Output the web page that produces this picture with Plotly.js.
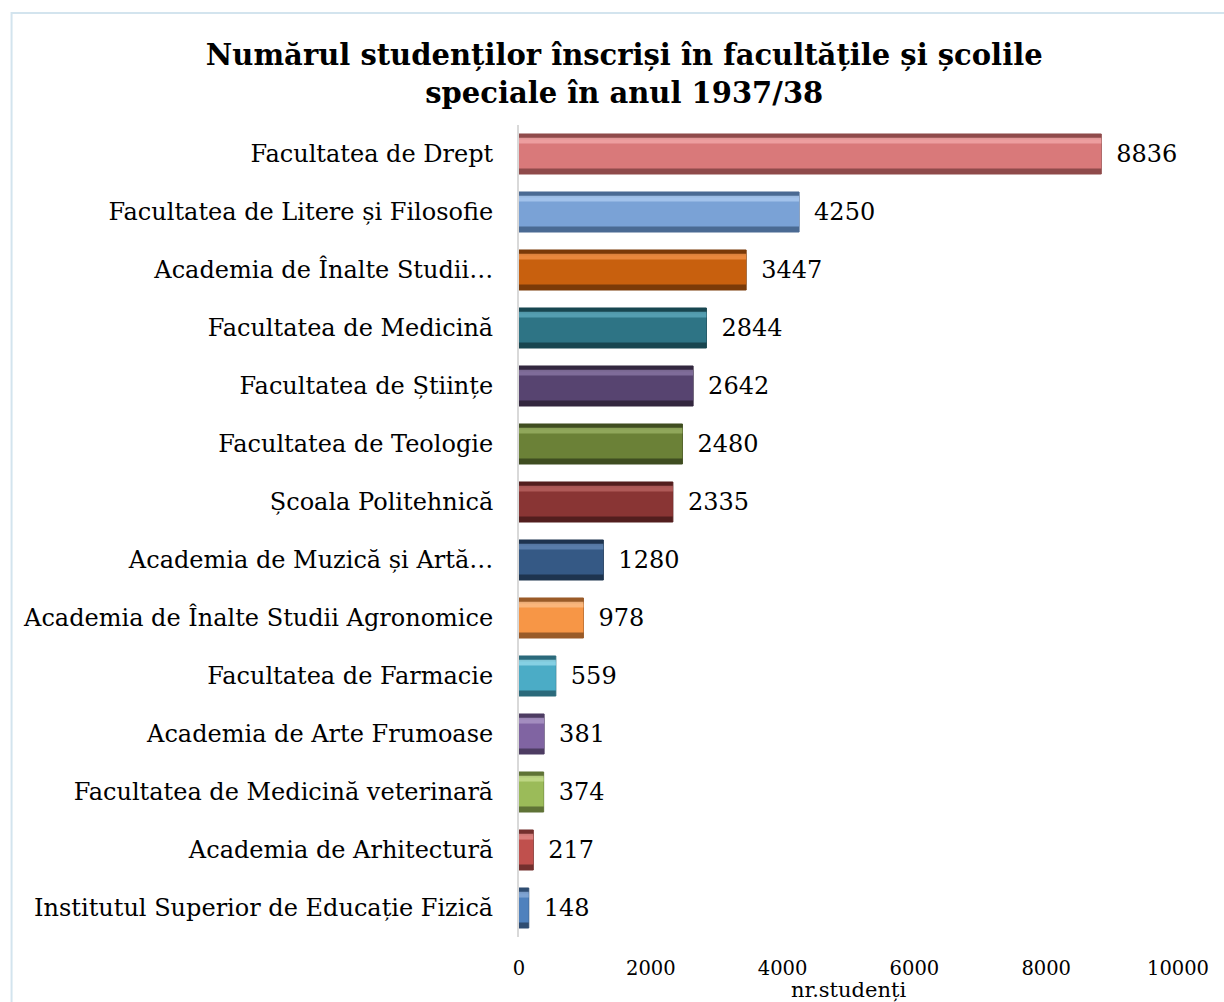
<!DOCTYPE html>
<html>
<head>
<meta charset="utf-8">
<script src="https://cdn.plot.ly/plotly-3.0.1.min.js"></script>
<style>html,body{margin:0;padding:0;background:#fff;}#chart{width:1224px;height:1002px;}</style>
</head>
<body>
<div id="chart"></div>
<script>
var categories = [
  "Facultatea de Drept",
  "Facultatea de Litere și Filosofie",
  "Academia de Înalte Studii…",
  "Facultatea de Medicină",
  "Facultatea de Științe",
  "Facultatea de Teologie",
  "Școala Politehnică",
  "Academia de Muzică și Artă…",
  "Academia de Înalte Studii Agronomice",
  "Facultatea de Farmacie",
  "Academia de Arte Frumoase",
  "Facultatea de Medicină veterinară",
  "Academia de Arhitectură",
  "Institutul Superior de Educație Fizică"
];
var students = [8836, 4250, 3447, 2844, 2642, 2480, 2335, 1280, 978, 559, 381, 374, 217, 148];
var barColors = ["#d9797a","#7aa2d6","#c8600e","#2e7485","#574470","#6b8137","#893534","#355985","#f79646","#4bacc6","#8064a2","#9bbb59","#c0504d","#4f81bd"];
var edgeColors = ["#8f4a4b","#4a6a93","#7a3a08","#184650","#33273f","#3f4d20","#521e1e","#1e344f","#9a5b28","#2b6a7b","#4d3c62","#5f7336","#74302e","#2f4d72"];
var lightColors = ["#f0a5a6","#a9c8ef","#ee8f45","#5aa6b8","#8673a0","#97ae62","#b6605f","#5f84b0","#fbbc85","#8fd6e8","#a994c4","#c3db8b","#de8785","#86a9d6"];
var tickVals = [0, 2000, 4000, 6000, 8000, 10000];

var font = "DejaVu Serif, Liberation Serif, serif";

var traces = [
  {
    type: "bar", orientation: "h", y: categories, x: students,
    width: 0.69,
    marker: {color: edgeColors, line: {color: edgeColors, width: 1}},
    hoverinfo: "skip", showlegend: false
  },
  {
    type: "bar", orientation: "h", y: categories, x: students,
    width: 0.5,
    marker: {color: barColors, line: {width: 0}},
    hoverinfo: "skip", showlegend: false
  },
  {
    type: "bar", orientation: "h", y: categories, x: students,
    width: 0.69,
    marker: {color: "rgba(0,0,0,0)", line: {width: 0}},
    text: students.map(String),
    texttemplate: "\u2002%{text}",
    textposition: "outside",
    cliponaxis: false,
    textfont: {family: font, size: 24, color: "#000"},
    showlegend: false
  },
  {
    type: "bar", orientation: "h", y: categories, x: students,
    width: 0.1, offset: -0.28,
    marker: {color: lightColors, opacity: 0.85, line: {width: 0}},
    hoverinfo: "skip", showlegend: false
  }
];

var layout = {
  width: 1224, height: 1002,
  paper_bgcolor: "#fff", plot_bgcolor: "#fff",
  barmode: "overlay",
  margin: {l: 519, r: 46, t: 125, b: 65},
  title: {
    text: "<b>Numărul studenților înscriși în facultățile și școlile<br>speciale în anul 1937/38</b>",
    font: {family: font, size: 29, color: "#000"},
    x: 0.51, xref: "container", xanchor: "center",
    y: 0.935, yref: "container", yanchor: "top"
  },
  xaxis: {
    range: [0, 10000], tickvals: tickVals, ticktext: tickVals.map(String),
    showgrid: false, zeroline: false, showline: false,
    ticks: "outside", ticklen: 14, tickcolor: "rgba(0,0,0,0)",
    tickfont: {family: font, size: 19.5, color: "#000"},
    title: {text: "nr.studenți", font: {family: font, size: 21, color: "#000"}, standoff: 0}
  },
  yaxis: {
    type: "category", autorange: "reversed",
    showgrid: false, zeroline: false,
    showline: true, linecolor: "#d9d9d9", linewidth: 2,
    ticks: "outside", ticklen: 19, tickcolor: "rgba(0,0,0,0)",
    tickfont: {family: font, size: 24, color: "#000"}
  },
  shapes: [
    {type: "rect", xref: "paper", yref: "paper", x0: -0.77, x1: 1.2, y0: -0.2, y1: 1.138,
     line: {color: "#d3e4ee", width: 2}, fillcolor: "rgba(0,0,0,0)", layer: "below"}
  ]
};

Plotly.newPlot("chart", traces, layout, {displayModeBar: false, staticPlot: true});
</script>
</body>
</html>
